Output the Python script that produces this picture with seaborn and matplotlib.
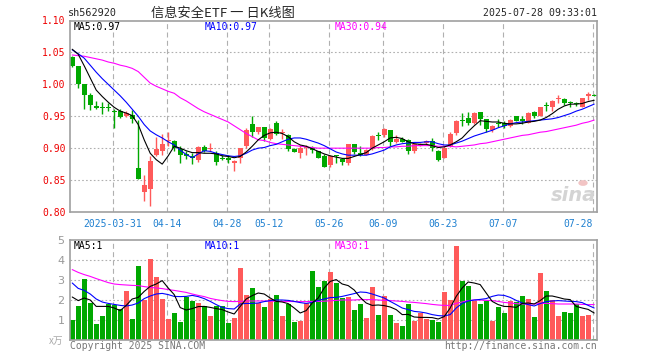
import numpy as np
import matplotlib
matplotlib.use("Agg")
import matplotlib.pyplot as plt
import seaborn as sns

# daily candles, 88 trading days (index 0 = 2025-03-20)
opens = [1.043, 1.028, 1.000, 0.983, 0.966, 0.964, 0.965, 0.957, 0.958, 0.951,
         0.952, 0.869, 0.832, 0.836, 0.890, 0.895, 0.911, 0.912, 0.899, 0.891,
         0.887, 0.882, 0.902, 0.898, 0.893, 0.884, 0.885, 0.876, 0.885, 0.904,
         0.938, 0.925, 0.933, 0.915, 0.940, 0.924, 0.921, 0.899, 0.892, 0.900,
         0.901, 0.895, 0.888, 0.873, 0.890, 0.883, 0.876, 0.907, 0.892, 0.890,
         0.899, 0.920, 0.920, 0.929, 0.910, 0.914, 0.913, 0.895, 0.904, 0.908,
         0.911, 0.896, 0.885, 0.904, 0.923, 0.943, 0.947, 0.939, 0.956, 0.945,
         0.928, 0.940, 0.939, 0.935, 0.950, 0.945, 0.940, 0.957, 0.951, 0.967,
         0.964, 0.977, 0.977, 0.971, 0.970, 0.965, 0.981, 0.984]
highs = [1.045, 1.029, 1.000, 0.986, 0.974, 0.972, 0.970, 0.961, 0.961, 0.958,
         0.960, 0.944, 0.858, 0.887, 0.917, 0.922, 0.926, 0.913, 0.903, 0.895,
         0.892, 0.903, 0.905, 0.908, 0.895, 0.890, 0.889, 0.882, 0.901, 0.931,
         0.950, 0.933, 0.933, 0.931, 0.943, 0.930, 0.922, 0.901, 0.905, 0.905,
         0.903, 0.896, 0.891, 0.890, 0.890, 0.884, 0.907, 0.907, 0.903, 0.899,
         0.921, 0.925, 0.931, 0.929, 0.920, 0.917, 0.914, 0.908, 0.908, 0.913,
         0.916, 0.897, 0.903, 0.925, 0.944, 0.955, 0.956, 0.956, 0.957, 0.945,
         0.936, 0.945, 0.942, 0.945, 0.951, 0.950, 0.956, 0.958, 0.965, 0.973,
         0.976, 0.984, 0.978, 0.974, 0.973, 0.978, 0.988, 0.985]
lows = [1.027, 0.995, 0.962, 0.960, 0.961, 0.954, 0.958, 0.931, 0.948, 0.949,
        0.939, 0.851, 0.817, 0.810, 0.887, 0.890, 0.904, 0.895, 0.877, 0.883,
        0.875, 0.878, 0.894, 0.896, 0.874, 0.881, 0.877, 0.864, 0.877, 0.901,
        0.918, 0.922, 0.912, 0.913, 0.920, 0.915, 0.896, 0.894, 0.884, 0.890,
        0.892, 0.884, 0.870, 0.871, 0.876, 0.874, 0.874, 0.891, 0.887, 0.889,
        0.897, 0.913, 0.918, 0.903, 0.908, 0.909, 0.891, 0.893, 0.903, 0.907,
        0.895, 0.880, 0.884, 0.902, 0.921, 0.935, 0.936, 0.938, 0.936, 0.926,
        0.926, 0.933, 0.931, 0.933, 0.942, 0.938, 0.939, 0.948, 0.950, 0.959,
        0.959, 0.970, 0.968, 0.965, 0.966, 0.964, 0.976, 0.981]
closes = [1.029, 1.000, 0.983, 0.967, 0.963, 0.963, 0.963, 0.956, 0.949, 0.955,
          0.946, 0.852, 0.842, 0.880, 0.899, 0.907, 0.912, 0.900, 0.890, 0.887,
          0.884, 0.902, 0.895, 0.899, 0.878, 0.883, 0.881, 0.880, 0.900, 0.929,
          0.925, 0.933, 0.916, 0.930, 0.922, 0.926, 0.899, 0.894, 0.900, 0.902,
          0.897, 0.885, 0.871, 0.888, 0.887, 0.879, 0.907, 0.894, 0.889, 0.897,
          0.919, 0.919, 0.930, 0.910, 0.914, 0.910, 0.895, 0.906, 0.906, 0.911,
          0.900, 0.882, 0.900, 0.922, 0.943, 0.942, 0.939, 0.955, 0.945, 0.930,
          0.935, 0.938, 0.935, 0.944, 0.943, 0.943, 0.955, 0.951, 0.964, 0.966,
          0.974, 0.978, 0.971, 0.970, 0.969, 0.978, 0.985, 0.982]

# moving averages as drawn on the chart
ma5 = [1.055, 1.047, 1.029, 1.010, 0.991, 0.981, 0.972, 0.964, 0.958, 0.955,
       0.951, 0.937, 0.913, 0.892, 0.882, 0.875, 0.888, 0.903, 0.900, 0.896,
       0.893, 0.893, 0.892, 0.892, 0.891, 0.888, 0.887, 0.885, 0.887, 0.894,
       0.903, 0.913, 0.920, 0.924, 0.925, 0.923, 0.918, 0.910, 0.905, 0.903,
       0.899, 0.895, 0.891, 0.888, 0.886, 0.884, 0.884, 0.887, 0.890, 0.893,
       0.900, 0.905, 0.910, 0.916, 0.917, 0.915, 0.910, 0.907, 0.906, 0.906,
       0.904, 0.901, 0.902, 0.905, 0.910, 0.916, 0.926, 0.935, 0.943, 0.942,
       0.941, 0.941, 0.939, 0.938, 0.938, 0.939, 0.941, 0.942, 0.944, 0.948,
       0.954, 0.961, 0.966, 0.969, 0.969, 0.970, 0.973, 0.975]
ma10 = [1.054, 1.048, 1.041, 1.030, 1.019, 1.009, 1.000, 0.991, 0.982, 0.972,
        0.961, 0.950, 0.937, 0.927, 0.921, 0.916, 0.910, 0.905, 0.897, 0.890,
        0.885, 0.891, 0.896, 0.895, 0.892, 0.890, 0.888, 0.887, 0.888, 0.892,
        0.897, 0.900, 0.901, 0.904, 0.906, 0.910, 0.914, 0.916, 0.916, 0.914,
        0.911, 0.908, 0.904, 0.899, 0.894, 0.891, 0.889, 0.889, 0.889, 0.889,
        0.891, 0.894, 0.897, 0.902, 0.905, 0.907, 0.908, 0.909, 0.909, 0.910,
        0.910, 0.907, 0.905, 0.905, 0.908, 0.911, 0.915, 0.919, 0.922, 0.925,
        0.928, 0.932, 0.935, 0.938, 0.940, 0.941, 0.942, 0.943, 0.944, 0.945,
        0.946, 0.948, 0.951, 0.954, 0.958, 0.961, 0.965, 0.969]
ma30 = [1.046, 1.045, 1.044, 1.042, 1.040, 1.038, 1.035, 1.033, 1.030, 1.028,
        1.025, 1.020, 1.011, 1.002, 0.997, 0.993, 0.989, 0.986, 0.979, 0.974,
        0.968, 0.962, 0.957, 0.953, 0.949, 0.945, 0.941, 0.935, 0.929, 0.923,
        0.918, 0.913, 0.912, 0.909, 0.907, 0.906, 0.905, 0.904, 0.903, 0.902,
        0.901, 0.900, 0.900, 0.900, 0.900, 0.900, 0.900, 0.900, 0.900, 0.900,
        0.900, 0.901, 0.901, 0.902, 0.902, 0.903, 0.903, 0.904, 0.904, 0.904,
        0.904, 0.903, 0.903, 0.903, 0.902, 0.903, 0.904, 0.905, 0.907, 0.908,
        0.910, 0.912, 0.914, 0.916, 0.918, 0.920, 0.921, 0.923, 0.925, 0.926,
        0.928, 0.930, 0.932, 0.934, 0.936, 0.939, 0.941, 0.944]

# volume (x万) and its averages
vol = [1.02, 1.72, 3.07, 1.85, 0.80, 1.22, 1.82, 1.73, 1.57, 2.43,
       1.07, 3.72, 1.98, 4.05, 3.17, 2.05, 1.07, 1.35, 0.90, 2.13,
       1.97, 1.83, 1.72, 1.20, 1.68, 1.72, 0.85, 1.10, 3.60, 2.23,
       2.60, 1.83, 1.63, 2.05, 2.23, 1.20, 1.82, 0.90, 0.97, 1.85,
       3.47, 2.63, 2.97, 3.38, 2.85, 2.10, 2.15, 1.52, 1.80, 1.10,
       2.65, 1.25, 2.22, 1.25, 0.85, 0.72, 1.80, 0.97, 1.35, 1.05,
       1.02, 0.90, 2.40, 1.98, 4.72, 2.97, 2.72, 1.97, 1.80, 1.97,
       0.97, 1.67, 1.35, 1.97, 1.90, 2.20, 2.05, 1.15, 3.37, 2.47,
       2.00, 1.22, 1.38, 1.35, 1.80, 1.22, 1.25, 0.05]
vma5 = [2.15, 1.97, 2.10, 2.00, 1.68, 1.68, 1.68, 1.60, 1.47, 1.73,
        2.05, 2.13, 2.43, 2.68, 2.80, 2.97, 2.60, 2.27, 1.62, 1.50,
        1.57, 1.67, 1.68, 1.63, 1.57, 1.52, 1.40, 1.30, 1.68, 2.05,
        2.22, 2.35, 2.30, 2.10, 1.93, 1.90, 1.82, 1.60, 1.35, 1.47,
        1.85, 2.10, 2.60, 2.93, 3.02, 2.80, 2.72, 2.50, 2.13, 1.85,
        1.73, 1.75, 1.72, 1.65, 1.52, 1.27, 1.28, 1.15, 1.13, 1.13,
        1.12, 1.05, 1.17, 1.60, 2.18, 2.60, 2.90, 2.85, 2.77, 2.35,
        1.93, 1.77, 1.68, 1.67, 1.63, 1.83, 1.85, 1.80, 1.97, 2.20,
        2.20, 2.13, 2.05, 2.02, 1.68, 1.60, 1.53, 1.35]
vma10 = [2.85, 2.58, 2.48, 2.30, 2.05, 1.90, 1.83, 1.78, 1.73, 1.70,
         1.75, 1.85, 2.07, 2.20, 2.30, 2.33, 2.27, 2.18, 2.17, 2.18,
         2.23, 2.17, 2.07, 1.93, 1.77, 1.63, 1.57, 1.55, 1.80, 1.83,
         1.83, 1.85, 1.92, 1.97, 2.00, 2.00, 1.98, 1.93, 1.87, 1.83,
         1.88, 1.98, 2.05, 2.12, 2.13, 2.18, 2.25, 2.32, 2.40, 2.38,
         2.30, 2.20, 2.10, 1.93, 1.77, 1.60, 1.52, 1.43, 1.40, 1.35,
         1.27, 1.22, 1.20, 1.27, 1.60, 1.83, 1.95, 2.00, 2.03, 2.07,
         2.18, 2.25, 2.23, 2.13, 1.98, 1.85, 1.77, 1.70, 1.82, 1.92,
         1.95, 1.97, 1.95, 1.93, 1.92, 1.87, 1.73, 1.60]
vma30 = [3.52, 3.38, 3.27, 3.18, 3.07, 2.97, 2.87, 2.80, 2.77, 2.75,
         2.73, 2.72, 2.67, 2.63, 2.60, 2.57, 2.52, 2.48, 2.43, 2.38,
         2.30, 2.23, 2.17, 2.08, 2.02, 1.97, 1.93, 1.92, 1.93, 1.95,
         1.95, 1.95, 1.95, 1.94, 1.94, 1.93, 1.93, 1.92, 1.92, 1.92,
         1.93, 1.93, 1.94, 1.96, 1.98, 2.00, 2.00, 2.00, 2.02, 2.02,
         2.02, 2.00, 1.98, 1.97, 1.95, 1.93, 1.90, 1.88, 1.85, 1.82,
         1.78, 1.75, 1.73, 1.73, 1.83, 1.90, 1.97, 2.00, 2.00, 1.98,
         1.97, 1.93, 1.88, 1.85, 1.82, 1.80, 1.80, 1.80, 1.83, 1.83,
         1.82, 1.80, 1.80, 1.80, 1.80, 1.78, 1.77, 1.77]

date_idx = [7, 16, 26, 33, 43, 52, 62, 72, 87]
date_labels = ['2025-03-31', '04-14', '04-28', '05-12', '05-26',
               '06-09', '06-23', '07-07', '07-28']
price_ticks = [0.80, 0.85, 0.90, 0.95, 1.00, 1.05, 1.10]
vol_ticks = [1, 2, 3, 4, 5]

for arr in [opens, highs, lows, closes, ma5, ma10, ma30, vol, vma5, vma10, vma30]:
    assert len(arr) == 88, len(arr)

RED = '#ff5a5a'
GREEN = '#00a800'
GRID = '#b0b0b0'
MONO = 'DejaVu Sans Mono'
LW = 0.8

sns.set_style('white')
plt.rcParams['font.family'] = ['DejaVu Sans Mono', 'Noto Sans CJK SC']

W, H = 660, 360
fig = plt.figure(figsize=(6.6, 3.6), dpi=100)


def fx(px):
    return px / W


def fy(py):
    return 1 - py / H


ax1 = fig.add_axes([fx(70), fy(212), (597 - 70) / W, (212 - 20.5) / H])
ax2 = fig.add_axes([fx(70), fy(340), (597 - 70) / W, 100 / H])

idx = np.arange(88)
o = np.array(opens)
c = np.array(closes)
cols = np.where(c >= o, RED, GREEN)

# candles
ax1.vlines(idx, lows, highs, colors=cols, lw=1, zorder=2)
ax1.bar(idx, np.maximum(np.abs(c - o), 0.0016), bottom=np.minimum(o, c),
        width=0.8, color=cols, linewidth=0, zorder=2)
sns.lineplot(x=idx, y=ma30, color='#ff00ff', lw=LW, ax=ax1, zorder=3)
sns.lineplot(x=idx, y=ma10, color='#0000ff', lw=LW, ax=ax1, zorder=3)
sns.lineplot(x=idx, y=ma5, color='black', lw=LW, ax=ax1, zorder=3)

# volume
ax2.bar(idx, vol, width=0.8, color=cols, linewidth=0, zorder=2)
sns.lineplot(x=idx, y=vma30, color='#ff00ff', lw=LW, ax=ax2, zorder=3)
sns.lineplot(x=idx, y=vma10, color='#0000ff', lw=LW, ax=ax2, zorder=3)
sns.lineplot(x=idx, y=vma5, color='black', lw=LW, ax=ax2, zorder=3)

for ax in [ax1, ax2]:
    ax.set_xlim(-0.37, 87.47)
    for t in date_idx:
        ax.axvline(t - 0.25, color=GRID, lw=0.8, ls=(0, (4.5, 3)), zorder=0)
    for s in ax.spines.values():
        s.set_color('#a0a0a0')
        s.set_linewidth(1.2)
    ax.set_xlabel('')
    ax.set_ylabel('')

ax1.set_ylim(0.80, 1.10)
for y in price_ticks[1:-1]:
    ax1.axhline(y, color=GRID, lw=0.8, ls=(0, (1.5, 2)), zorder=0)
ax1.set_yticks(price_ticks)
ax1.set_yticklabels(['%.2f' % v for v in price_ticks], color='#ee0000',
                    fontsize=7, family=MONO)
ax1.set_xticks([t - 0.25 for t in date_idx])
ax1.set_xticklabels(date_labels, color='#1f80d0', fontsize=7, family=MONO)
ax1.get_xticklabels()[-1].set_ha('right')
ax1.tick_params(length=0, pad=3)
ax1.tick_params(axis='x', pad=5)

ax2.set_ylim(0, 5)
for y in vol_ticks[:-1]:
    ax2.axhline(y, color=GRID, lw=0.8, ls=(0, (1.5, 2)), zorder=0)
ax2.set_yticks(vol_ticks)
ax2.set_yticklabels([str(v) for v in vol_ticks], color='#999999',
                    fontsize=8, family='DejaVu Sans')
ax2.set_xticks([])
ax2.tick_params(length=0, pad=4)

# header
fig.text(fx(68), fy(13), 'sh562920', fontsize=7.3, family=MONO, va='center')
fig.text(fx(151), fy(13), '信息安全ETF 一 日K线图', fontsize=9.5,
         family=['Noto Sans CJK SC', 'DejaVu Sans'], va='center')
fig.text(fx(597), fy(13), '2025-07-28 09:33:01', fontsize=7.1, family=MONO,
         va='center', ha='right')

# MA legends
fig.text(fx(74), fy(27), 'MA5:0.97', fontsize=7, family=MONO, va='center', color='black')
fig.text(fx(205), fy(27), 'MA10:0.97', fontsize=7, family=MONO, va='center', color='#0000ff')
fig.text(fx(335), fy(27), 'MA30:0.94', fontsize=7, family=MONO, va='center', color='#ff00ff')
fig.text(fx(74), fy(246), 'MA5:1', fontsize=7, family=MONO, va='center', color='black')
fig.text(fx(205), fy(246), 'MA10:1', fontsize=7, family=MONO, va='center', color='#0000ff')
fig.text(fx(335), fy(246), 'MA30:1', fontsize=7, family=MONO, va='center', color='#ff00ff')

# footer
fig.text(fx(63), fy(341), 'x万', fontsize=7, color='#aaaaaa', ha='right', va='center',
         style='italic', family=['Noto Sans CJK SC', 'DejaVu Sans'])
fig.text(fx(70), fy(346), 'Copyright 2025 SINA.COM', fontsize=7, family=MONO,
         color='#777777', va='center')
fig.text(fx(597), fy(346), 'http://finance.sina.com.cn', fontsize=7, family=MONO,
         color='#777777', va='center', ha='right')

# watermark
fig.text(fx(596), fy(205), 'sina', fontsize=14, style='italic', weight='bold',
         color='#d4d4d4', ha='right', va='bottom', family='DejaVu Sans', zorder=0)
fig.patches.append(plt.Circle((fx(583), fy(183)), 0.006, transform=fig.transFigure,
                              color='#f2c4c4', zorder=0))

fig.savefig('out.png', dpi=100)
